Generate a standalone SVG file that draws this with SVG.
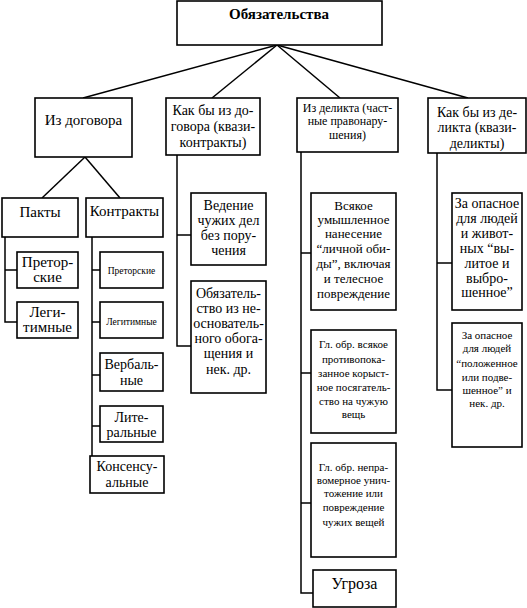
<svg xmlns="http://www.w3.org/2000/svg" width="527" height="608" viewBox="0 0 527 608">
<style>
rect{fill:#fff;stroke:#000;stroke-width:1.6}
text{font-family:"Liberation Serif","DejaVu Serif",serif;fill:#000;text-anchor:middle}
.c line,.c path{stroke:#000;stroke-width:1.5;fill:none}
.t15{font-size:15px}.t14{font-size:14px}.t13{font-size:13px}.t12{font-size:12px}.t11{font-size:11px}.t16{font-size:16px}.t9{font-size:9.5px}
</style>
<rect x="0" y="0" width="527" height="608" style="stroke:none"/>
<g class="c" id="connectors">
<line x1="277" y1="45" x2="83" y2="98"/>
<line x1="277" y1="45" x2="212" y2="98"/>
<line x1="277" y1="45" x2="340" y2="98"/>
<line x1="277" y1="45" x2="468" y2="98"/>
<line x1="85" y1="157" x2="42" y2="198"/>
<line x1="85" y1="157" x2="120" y2="198"/>
<path d="M5 237V322H17M5 270H17"/>
<path d="M92 237V456M92 270H100M92 322H100M92 375H100M92 426H100"/>
<path d="M177 155V346H191M177 235H191"/>
<path d="M301 152V593H313M301 253H311M301 373H311M301 503H311"/>
<path d="M437 153V390H452M437 263H452"/>
</g>
<g id="n-root"><rect x="177" y="1" width="205" height="44"/><text class="t15" x="279" y="19" font-weight="bold">Обязательства</text></g>
<g id="n-contract"><rect x="35" y="98" width="97" height="59"/><text class="t15" x="83.5" y="125">Из договора</text></g>
<g id="n-quasicontract"><rect x="166" y="98" width="94" height="57"/><text class="t14" x="213" y="115">Как бы из до-</text><text class="t14" x="213" y="131">говора (квази-</text><text class="t14" x="213" y="147">контракты)</text></g>
<g id="n-delict"><rect x="297" y="98" width="101" height="54"/><text class="t12" x="347.5" y="112">Из деликта (част-</text><text class="t12" x="347.5" y="125">ные правонару-</text><text class="t12" x="347.5" y="139">шения)</text></g>
<g id="n-quasidelict"><rect x="428" y="98" width="98" height="55"/><text class="t14" x="477" y="117">Как бы из де-</text><text class="t14" x="477" y="132">ликта (квази-</text><text class="t14" x="477" y="148">деликты)</text></g>
<g id="n-pacts"><rect x="2" y="198" width="76" height="39"/><text class="t15" x="40" y="217">Пакты</text></g>
<g id="n-contracts"><rect x="86" y="198" width="77" height="39"/><text class="t15" x="124.5" y="216">Контракты</text></g>
<g id="n-p-praetor"><rect x="17" y="252" width="61" height="36"/><text class="t15" x="47.5" y="267">Претор-</text><text class="t15" x="47.5" y="282">ские</text></g>
<g id="n-p-legit"><rect x="17" y="302" width="61" height="36"/><text class="t15" x="47.5" y="317">Леги-</text><text class="t15" x="47.5" y="332">тимные</text></g>
<g id="n-c-praetor"><rect x="100" y="252" width="63" height="36"/><text class="t9" x="131.5" y="274">Преторские</text></g>
<g id="n-c-legit"><rect x="100" y="302" width="63" height="36"/><text class="t9" x="131.5" y="325">Легитимные</text></g>
<g id="n-verbal"><rect x="100" y="353" width="63" height="38"/><text class="t14" x="131.5" y="369">Вербаль-</text><text class="t14" x="131.5" y="385">ные</text></g>
<g id="n-literal"><rect x="100" y="406" width="63" height="36"/><text class="t14" x="131.5" y="422">Лите-</text><text class="t14" x="131.5" y="437">ральные</text></g>
<g id="n-consensual"><rect x="90" y="456" width="74" height="37"/><text class="t14" x="127" y="471">Консенсу-</text><text class="t14" x="127" y="487">альные</text></g>
<g id="n-negotium"><rect x="191" y="193" width="75" height="72"/><text class="t14" x="228.5" y="210">Ведение</text><text class="t14" x="228.5" y="225">чужих дел</text><text class="t14" x="228.5" y="240">без пору-</text><text class="t14" x="228.5" y="255">чения</text></g>
<g id="n-enrich"><rect x="191" y="281" width="75" height="112"/><text class="t14" x="228.5" y="298">Обязатель-</text><text class="t14" x="228.5" y="313">ство из не-</text><text class="t14" x="228.5" y="328">основатель-</text><text class="t14" x="228.5" y="343">ного обога-</text><text class="t14" x="228.5" y="358">щения и</text><text class="t14" x="228.5" y="374">нек. др.</text></g>
<g id="n-injury"><rect x="311" y="193" width="85" height="117"/><text class="t13" x="353.5" y="210">Всякое</text><text class="t13" x="353.5" y="224">умышленное</text><text class="t13" x="353.5" y="238">нанесение</text><text class="t13" x="353.5" y="253">“личной оби-</text><text class="t13" x="353.5" y="268">ды”, включая</text><text class="t13" x="353.5" y="283">и телесное</text><text class="t13" x="353.5" y="298">повреждение</text></g>
<g id="n-theft"><rect x="311" y="330" width="85" height="103"/><text class="t11" x="353.5" y="348">Гл. обр. всякое</text><text class="t11" x="353.5" y="363">противопока-</text><text class="t11" x="353.5" y="377">занное корыст-</text><text class="t11" x="353.5" y="391">ное посягатель-</text><text class="t11" x="353.5" y="405">ство на чужую</text><text class="t11" x="353.5" y="418">вещь</text></g>
<g id="n-damage"><rect x="311" y="443" width="85" height="114"/><text class="t11" x="353.5" y="471">Гл. обр. непра-</text><text class="t11" x="353.5" y="484">вомерное унич-</text><text class="t11" x="353.5" y="497">тожение или</text><text class="t11" x="353.5" y="511">повреждение</text><text class="t11" x="353.5" y="526">чужих вещей</text></g>
<g id="n-threat"><rect x="313" y="570" width="83" height="37"/><text class="t16" x="354.5" y="589">Угроза</text></g>
<g id="n-poured"><rect x="452" y="193" width="70" height="117"/><text class="t14" x="487" y="208">За опасное</text><text class="t14" x="487" y="223">для людей</text><text class="t14" x="487" y="238">и живот-</text><text class="t14" x="487" y="253">ных “вы-</text><text class="t14" x="487" y="268">литое и</text><text class="t14" x="487" y="283">выбро-</text><text class="t14" x="487" y="297">шенное”</text></g>
<g id="n-hung"><rect x="452" y="323" width="70" height="124"/><text class="t11" x="487" y="339">За опасное</text><text class="t11" x="487" y="352">для людей</text><text class="t11" x="487" y="367">“положенное</text><text class="t11" x="487" y="381">или подве-</text><text class="t11" x="487" y="394">шенное” и</text><text class="t11" x="487" y="407">нек. др.</text></g>
</svg>
